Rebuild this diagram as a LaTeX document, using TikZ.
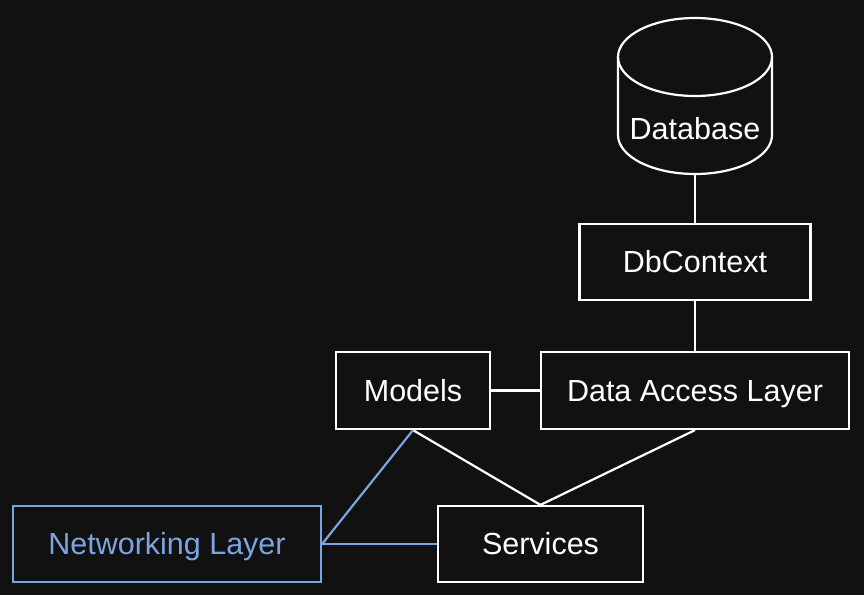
\documentclass[tikz,border=0pt]{standalone}
\usepackage{fontspec}
\setmainfont{Liberation Sans}
\usepackage{xcolor}
\definecolor{bg}{HTML}{111111}
\definecolor{netblue}{HTML}{7CA4E2}
\tikzset{
  layer/.style={draw=white, line width=2.2pt, fill=bg, text=white, inner sep=0pt, text height=21.8pt, text depth=0pt},
  netlayer/.style={layer, draw=netblue, text=netblue},
  link/.style={draw=white, line width=2.2pt},
  netlink/.style={link, draw=netblue}
}

\begin{document}
\begin{tikzpicture}[x=1pt,y=-1pt,font=\fontsize{30.5}{36}\selectfont]
        \fill[bg] (0,0) rectangle (864,595); %背景
        \useasboundingbox (0,0) rectangle (864,595);
        % Database
        \node[inner sep=0pt, minimum width=155pt, minimum height=155pt] (db) at (695,95.5) {};
        \draw[line width=2.2pt, white] (618,57) -- (618,135) arc[start angle=180, end angle=0, x radius=77, y radius=39] -- (772,57); %円柱
        \draw[line width=2.2pt, white] (695,57) ellipse[x radius=77, y radius=39]; %上面
        \node[text=white, inner sep=0pt, text height=21.8pt, text depth=0pt] at (695,128.5) {Database};
        % boxes
        \node[layer, minimum width=231pt, minimum height=76pt] (ctx) at (695,262) {DbContext};
        \node[layer, minimum width=154pt, minimum height=77pt] (models) at (413,390.5) {Models};
        \node[layer, minimum width=308pt, minimum height=77pt] (dal) at (695,390.5) {Data Access Layer};
        \node[netlayer, minimum width=308pt, minimum height=76pt] (net) at (167,544) {Networking Layer};
        \node[layer, minimum width=205pt, minimum height=76pt] (svc) at (540.5,544) {Services};
        % links
        \draw[link] (db) -- (ctx);
        \draw[link] (ctx) -- (dal);
        \draw[link] (models) -- (dal);
        \draw[link] (models.south) -- (svc.north);
        \draw[link] (dal.south) -- (svc.north);
        \draw[netlink] (net.east) -- (models.south);
        \draw[netlink] (net) -- (svc);
\end{tikzpicture}
\end{document}
